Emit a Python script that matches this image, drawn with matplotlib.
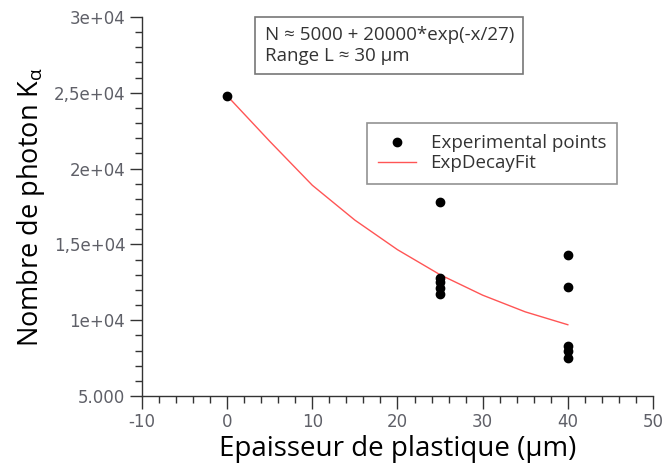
import matplotlib
matplotlib.use("Agg")
import matplotlib.pyplot as plt
from matplotlib.ticker import FixedLocator, MultipleLocator

# measured points
exp_x = [0, 25, 25, 25, 25, 25, 40, 40, 40, 40, 40]
exp_y = [24800, 17800, 12800, 12500, 12100, 11700, 14300, 12200, 8300, 8000, 7500]

# fitted curve
fit_x = [0, 5, 10, 15, 20, 25, 30, 35, 40]
fit_y = [24800, 21800, 18900, 16600, 14650, 13000, 11650, 10550, 9700]

y_ticks = [5000, 10000, 15000, 20000, 25000, 30000]
y_ticklabels = ["5.000", "1e+04", "1,5e+04", "2e+04", "2,5e+04", "3e+04"]
x_ticks = [-10, 0, 10, 20, 30, 40, 50]

plt.rcParams["font.family"] = ["Open Sans", "DejaVu Sans"]
plt.rcParams["mathtext.fontset"] = "custom"
plt.rcParams["mathtext.rm"] = "Open Sans"
plt.rcParams["mathtext.it"] = "Open Sans:italic"
plt.rcParams["axes.unicode_minus"] = False

fig = plt.figure(figsize=(6.62, 4.74), dpi=100)
ax = fig.add_axes([0.2145, 0.1646, 0.7719, 0.7995])

ax.plot(fit_x, fit_y, color="#ff5555", lw=1.0, label="ExpDecayFit", zorder=2)
ax.plot(exp_x, exp_y, "o", color="black", ms=6, label="Experimental points", zorder=3)

ax.set_xlim(-10, 50)
ax.set_ylim(5000, 30000)
ax.xaxis.set_major_locator(FixedLocator(x_ticks))
ax.xaxis.set_minor_locator(MultipleLocator(2))
ax.yaxis.set_major_locator(FixedLocator(y_ticks))
ax.yaxis.set_minor_locator(MultipleLocator(1000))
ax.set_yticklabels(y_ticklabels)

for s in ["top", "right"]:
    ax.spines[s].set_visible(False)
for s in ["left", "bottom"]:
    ax.spines[s].set_color("#333333")
    ax.spines[s].set_linewidth(1.0)

tick_col = "#5f6068"
ax.tick_params(which="major", length=9, width=1, color="#333333", labelsize=12, labelcolor=tick_col, pad=3)
ax.tick_params(which="minor", length=5, width=1, color="#333333")
for lbl in ax.get_xticklabels() + ax.get_yticklabels():
    lbl.set_family("DejaVu Sans")

ax.set_xlabel("Epaisseur de plastique (µm)", fontsize=20, labelpad=3)
ax.set_ylabel("Nombre de photon K$_{\\mathrm{\\alpha}}$", fontsize=19.5, labelpad=5)

ax.text(0.24, 0.975, "N ≈ 5000 + 20000*exp(-x/27)\nRange L ≈ 30 µm",
        transform=ax.transAxes, fontsize=13.5, color="#333333", va="top", ha="left",
        linespacing=1.15,
        bbox=dict(boxstyle="square,pad=0.5", fc="white", ec="#777777", lw=1.2))

handles, labels = ax.get_legend_handles_labels()
leg = ax.legend(handles[::-1], labels[::-1], loc="upper left", bbox_to_anchor=(0.44, 0.72),
                fontsize=13.5, frameon=True, fancybox=False, edgecolor="#777777",
                handlelength=2.0, borderpad=0.6, labelspacing=0.1, borderaxespad=0)
leg.get_frame().set_linewidth(1.2)
for t in leg.get_texts():
    t.set_color("#333333")

fig.savefig("out.png", dpi=100)
